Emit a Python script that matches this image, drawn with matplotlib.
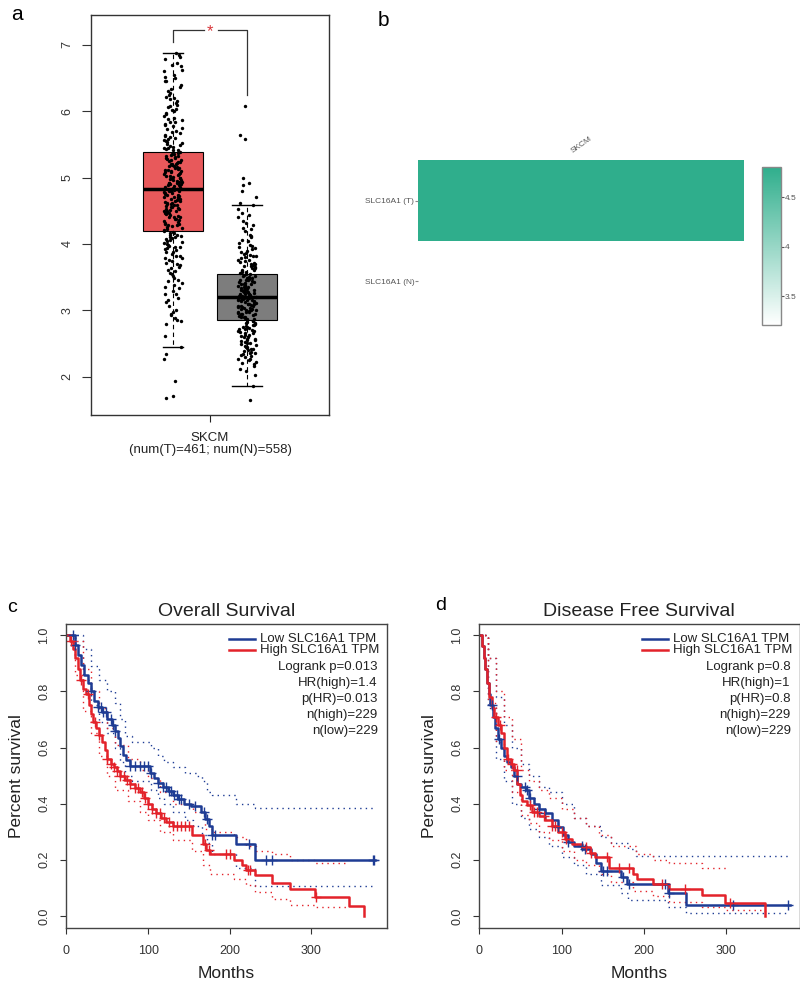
import matplotlib
matplotlib.use('Agg')
import matplotlib.pyplot as plt
import numpy as np
from matplotlib.colors import LinearSegmentedColormap

plt.rcParams['font.family'] = ['Liberation Sans', 'DejaVu Sans']

# ---- panel a: SLC16A1 expression, tumour vs normal ----
tumor_expr = [1.68, 1.71, 1.93, 2.27, 2.34, 2.45, 2.61, 2.79, 2.83, 2.88, 2.93, 2.97, 3.01, 3.06,
              3.12, 3.18, 3.24, 3.29, 3.33, 3.38, 3.41, 3.44, 3.49, 3.52, 3.56, 3.59, 3.61, 3.65,
              3.68, 3.71, 3.74, 3.76, 3.79, 3.82, 3.85, 3.87, 3.90, 3.93, 3.96, 3.99, 4.01, 4.04,
              4.06, 4.09, 4.12, 4.14, 4.17, 4.19, 4.22, 4.24, 4.27, 4.29, 4.31, 4.34, 4.36, 4.38,
              4.41, 4.43, 4.46, 4.48, 4.50, 4.52, 4.55, 4.57, 4.59, 4.61, 4.63, 4.65, 4.67, 4.70,
              4.72, 4.74, 4.76, 4.78, 4.80, 4.82, 4.84, 4.86, 4.88, 4.90, 4.92, 4.94, 4.96, 4.98,
              5.00, 5.02, 5.04, 5.06, 5.08, 5.10, 5.12, 5.14, 5.16, 5.18, 5.20, 5.22, 5.24, 5.26,
              5.28, 5.30, 5.32, 5.35, 5.37, 5.39, 5.42, 5.44, 5.47, 5.50, 5.52, 5.55, 5.58, 5.61,
              5.64, 5.67, 5.70, 5.73, 5.77, 5.80, 5.84, 5.88, 5.92, 5.96, 6.00, 6.04, 6.08, 6.13,
              6.18, 6.22, 6.28, 6.33, 6.40, 6.46, 6.51, 6.55, 6.62, 6.68, 6.72, 6.78, 6.85, 6.88,
              4.45, 4.62, 4.75, 4.83, 4.95, 5.05, 5.13, 5.25, 5.33, 4.28, 4.53, 4.68, 5.01, 5.17,
              3.95, 4.11, 5.45, 5.60, 5.83, 6.10, 4.92, 4.79, 5.27, 4.58,
              3.82, 3.88, 3.97, 4.03, 4.07, 4.13, 4.16, 4.21, 4.25, 4.30, 4.33, 4.37, 4.40, 4.42,
              4.47, 4.49, 4.51, 4.54, 4.56, 4.60, 4.64, 4.66, 4.69, 4.71, 4.73, 4.77, 4.81, 4.85,
              4.87, 4.89, 4.91, 4.93, 4.97, 4.99, 5.03, 5.07, 5.09, 5.11, 5.15, 5.19, 5.21, 5.23,
              5.29, 5.31, 5.34, 5.36, 5.41, 5.43, 5.46, 5.49, 5.53, 5.57, 5.63, 5.69, 5.75, 5.79,
              5.86, 5.90, 5.98, 6.02, 6.06, 6.15, 6.20, 6.25, 6.30, 6.36, 3.46, 3.54, 3.63, 3.70,
              3.78, 3.92, 4.00, 4.10, 4.18, 3.35, 3.25, 3.15, 2.95, 2.85, 6.50, 6.60, 6.45, 6.70,
              6.82, 5.10, 5.20, 5.00, 4.90, 4.80, 4.70, 4.60, 4.50, 4.40, 4.30]
normal_expr = [1.64, 1.86, 2.02, 2.08, 2.12, 2.16, 2.19, 2.22, 2.25, 2.27, 2.30, 2.32, 2.34, 2.37,
               2.39, 2.41, 2.43, 2.45, 2.47, 2.49, 2.51, 2.53, 2.55, 2.57, 2.59, 2.61, 2.63, 2.65,
               2.67, 2.69, 2.71, 2.73, 2.75, 2.77, 2.79, 2.81, 2.83, 2.85, 2.86, 2.88, 2.90, 2.91,
               2.93, 2.95, 2.96, 2.98, 3.00, 3.01, 3.03, 3.04, 3.06, 3.07, 3.09, 3.10, 3.12, 3.13,
               3.15, 3.16, 3.18, 3.19, 3.21, 3.22, 3.24, 3.25, 3.27, 3.28, 3.30, 3.31, 3.33, 3.35,
               3.36, 3.38, 3.40, 3.41, 3.43, 3.45, 3.47, 3.49, 3.51, 3.53, 3.55, 3.57, 3.59, 3.61,
               3.63, 3.65, 3.68, 3.70, 3.72, 3.75, 3.78, 3.80, 3.83, 3.86, 3.89, 3.92, 3.95, 3.98,
               4.02, 4.06, 4.10, 4.14, 4.19, 4.24, 4.29, 4.34, 4.40, 4.46, 4.52, 4.58, 4.62, 4.70,
               4.80, 4.88, 4.92, 5.00, 5.58, 5.64, 6.08,
               2.98, 3.05, 3.11, 3.17, 3.20, 3.23, 3.26, 3.29, 3.34, 3.39, 3.44, 3.50, 2.89, 2.94,
               3.02, 3.08, 3.14, 2.70, 2.80, 3.56, 3.62, 3.66, 2.60, 2.50, 3.74, 3.85, 2.40, 2.44,
               2.31, 2.36, 2.42, 2.46, 2.52, 2.56, 2.62, 2.66, 2.72, 2.76, 2.82, 2.84, 2.87, 2.92,
               2.97, 2.99, 3.02, 3.06, 3.09, 3.11, 3.14, 3.16, 3.19, 3.21, 3.24, 3.27, 3.30, 3.32,
               3.37, 3.42, 3.46, 3.48, 3.52, 3.58, 3.64, 3.67, 3.71, 3.76, 3.81, 3.88, 3.93, 3.97,
               4.04, 4.12, 4.22, 4.32, 4.44, 2.20, 2.26, 2.35, 2.55, 2.68, 2.74, 2.78, 3.00, 3.10,
               3.20, 3.30, 3.40, 3.60, 3.35, 3.45, 3.15, 3.05, 2.95, 2.90, 3.25, 3.54, 3.70, 3.82]
box_q1 = [4.20, 2.85]
box_med = [4.82, 3.20]
box_q3 = [5.38, 3.55]
box_lo = [2.45, 1.85]
box_hi = [6.88, 4.58]
box_colors = ['#e8595b', '#7d7d7d']

# ---- panel b: heatmap ----
heat_rows = ['SLC16A1 (T)', 'SLC16A1 (N)']
heat_cols = ['SKCM']
heat_values = [4.81, 3.21]

# ---- panel c: overall survival (month, survival) ----
os_low = [(0, 1.0), (10, 0.965), (14, 0.93), (18, 0.895), (22, 0.86), (26, 0.83), (30, 0.80),
          (34, 0.765), (38, 0.745), (44, 0.725), (50, 0.70), (56, 0.68), (60, 0.66), (63, 0.635),
          (66, 0.605), (69, 0.575), (73, 0.555), (78, 0.535), (102, 0.51), (107, 0.49),
          (112, 0.475), (118, 0.46), (124, 0.445), (130, 0.43), (137, 0.415), (144, 0.40),
          (152, 0.39), (165, 0.37), (170, 0.345), (174, 0.32), (178, 0.29), (208, 0.255),
          (231, 0.20), (378, 0.20)]
os_high = [(0, 1.0), (4, 0.98), (8, 0.95), (11, 0.92), (14, 0.88), (17, 0.84), (20, 0.81),
           (24, 0.79), (27, 0.75), (30, 0.72), (33, 0.69), (36, 0.67), (40, 0.645), (44, 0.62),
           (47, 0.59), (50, 0.56), (54, 0.54), (58, 0.53), (62, 0.515), (66, 0.50), (72, 0.485),
           (78, 0.47), (84, 0.455), (90, 0.44), (95, 0.42), (100, 0.40), (105, 0.38), (110, 0.365),
           (116, 0.35), (122, 0.335), (130, 0.32), (154, 0.29), (167, 0.255), (171, 0.235),
           (176, 0.22), (205, 0.20), (215, 0.18), (220, 0.165), (231, 0.145), (252, 0.118),
           (274, 0.095), (305, 0.068), (346, 0.035), (364, 0.0)]
os_low_up = [(0, 1.0), (10, 1.0), (20, 0.95), (30, 0.89), (40, 0.84), (50, 0.80), (60, 0.76),
             (66, 0.70), (72, 0.64), (80, 0.62), (104, 0.60), (112, 0.57), (120, 0.55),
             (130, 0.53), (145, 0.51), (160, 0.50), (166, 0.48), (172, 0.44), (178, 0.43),
             (208, 0.40), (231, 0.385), (378, 0.385)]
os_low_dn = [(0, 1.0), (10, 0.93), (20, 0.84), (30, 0.75), (40, 0.69), (50, 0.65), (60, 0.60),
             (66, 0.55), (72, 0.50), (80, 0.48), (104, 0.45), (112, 0.42), (120, 0.40),
             (130, 0.37), (145, 0.34), (155, 0.32), (166, 0.29), (172, 0.26), (178, 0.22),
             (208, 0.17), (231, 0.105), (378, 0.105)]
os_high_up = [(0, 1.0), (10, 0.98), (20, 0.88), (30, 0.80), (40, 0.74), (50, 0.67), (60, 0.61),
              (75, 0.56), (90, 0.52), (100, 0.49), (115, 0.44), (130, 0.40), (155, 0.37),
              (170, 0.31), (180, 0.30), (205, 0.28), (220, 0.25), (232, 0.23), (252, 0.22),
              (274, 0.20), (305, 0.19), (346, 0.19)]
os_high_dn = [(0, 1.0), (10, 0.86), (20, 0.73), (30, 0.65), (40, 0.57), (50, 0.50), (60, 0.45),
              (75, 0.41), (90, 0.37), (100, 0.34), (115, 0.30), (130, 0.27), (154, 0.23),
              (167, 0.18), (176, 0.15), (205, 0.13), (220, 0.11), (231, 0.085), (252, 0.06),
              (274, 0.04), (305, 0.03), (346, 0.03)]
os_low_cens = [8, 10, 30, 38, 42, 45, 48, 55, 57, 60, 78, 84, 90, 95, 100, 104, 112, 118, 122,
               125, 128, 132, 135, 138, 140, 150, 158, 168, 172, 178, 182, 224, 245, 252, 376, 377]
os_high_cens = [5, 18, 26, 35, 40, 50, 55, 58, 62, 66, 70, 74, 78, 84, 88, 92, 96, 100, 105, 110,
                115, 120, 125, 130, 135, 140, 145, 150, 170, 175, 195, 200, 222, 225, 306]
os_stats = ['Logrank p=0.013', 'HR(high)=1.4', 'p(HR)=0.013', 'n(high)=229', 'n(low)=229']

# ---- panel d: disease free survival ----
dfs_low = [(0, 1.0), (3, 0.96), (5, 0.92), (7, 0.88), (9, 0.83), (11, 0.79), (13, 0.75),
           (16, 0.71), (19, 0.67), (22, 0.63), (26, 0.60), (30, 0.57), (34, 0.55), (38, 0.53),
           (42, 0.50), (46, 0.47), (50, 0.46), (56, 0.45), (60, 0.42), (66, 0.40), (72, 0.38),
           (80, 0.365), (88, 0.34), (95, 0.315), (102, 0.29), (108, 0.265), (115, 0.25),
           (125, 0.24), (135, 0.22), (142, 0.19), (148, 0.16), (172, 0.14), (179, 0.115),
           (229, 0.08), (251, 0.04), (378, 0.04)]
dfs_high = [(0, 1.0), (3, 0.96), (5, 0.92), (7, 0.88), (9, 0.83), (12, 0.78), (15, 0.74),
            (18, 0.71), (22, 0.68), (26, 0.65), (30, 0.60), (34, 0.56), (38, 0.54), (42, 0.52),
            (46, 0.47), (49, 0.43), (52, 0.41), (58, 0.395), (64, 0.37), (72, 0.355), (80, 0.34),
            (88, 0.32), (96, 0.30), (104, 0.275), (112, 0.255), (125, 0.245), (134, 0.225),
            (140, 0.21), (157, 0.17), (186, 0.15), (191, 0.13), (211, 0.115), (230, 0.095),
            (270, 0.075), (299, 0.047), (347, 0.0)]
dfs_low_up = [(0, 1.0), (10, 0.92), (20, 0.78), (30, 0.68), (40, 0.60), (50, 0.54), (60, 0.50),
              (72, 0.46), (85, 0.44), (100, 0.40), (115, 0.35), (130, 0.32), (148, 0.28),
              (160, 0.26), (180, 0.24), (190, 0.215), (378, 0.215)]
dfs_low_dn = [(0, 1.0), (10, 0.74), (20, 0.56), (30, 0.48), (40, 0.40), (50, 0.35), (60, 0.31),
              (72, 0.28), (85, 0.25), (100, 0.21), (115, 0.18), (130, 0.15), (148, 0.11),
              (172, 0.08), (180, 0.055), (229, 0.03), (251, 0.01), (372, 0.01)]
dfs_high_up = [(0, 1.0), (10, 0.92), (20, 0.80), (30, 0.71), (40, 0.63), (50, 0.52), (60, 0.48),
               (72, 0.45), (85, 0.42), (100, 0.38), (115, 0.35), (130, 0.32), (145, 0.29),
               (160, 0.25), (190, 0.22), (211, 0.20), (230, 0.19), (270, 0.17), (300, 0.16)]
dfs_high_dn = [(0, 1.0), (10, 0.76), (20, 0.62), (30, 0.52), (40, 0.44), (50, 0.36), (60, 0.33),
               (72, 0.30), (85, 0.27), (100, 0.23), (115, 0.20), (130, 0.18), (145, 0.15),
               (160, 0.12), (186, 0.09), (211, 0.07), (230, 0.05), (270, 0.03), (300, 0.02),
               (347, 0.0)]
dfs_low_cens = [15, 24, 45, 55, 58, 62, 72, 80, 95, 108, 124, 128, 150, 155, 175, 182, 225, 230,
                308, 375]
dfs_high_cens = [20, 25, 35, 40, 45, 62, 66, 70, 78, 88, 92, 100, 105, 130, 135, 155, 170, 182,
                 222, 250, 305]
dfs_stats = ['Logrank p=0.8', 'HR(high)=1', 'p(HR)=0.8', 'n(high)=229', 'n(low)=229']

BLUE = '#1e3c94'
RED = '#e3222a'
W, H = 800, 981


def fx(px):
    return px / W


def fy(py):
    return 1 - py / H


fig = plt.figure(figsize=(8, 9.81), dpi=100)

# ================= panel a =================
ax = fig.add_axes([fx(90.7), fy(415), fx(329.3) - fx(90.7), fy(15) - fy(415)])
pos = [0.8, 1.2]
stats = []
for i in range(2):
    stats.append({'med': box_med[i], 'q1': box_q1[i], 'q3': box_q3[i],
                  'whislo': box_lo[i], 'whishi': box_hi[i], 'fliers': []})
bp = ax.bxp(stats, positions=pos, widths=0.32, patch_artist=True, showfliers=False,
            capwidths=[0.11, 0.16],
            whiskerprops=dict(color='black', lw=0.8, ls=(0, (4, 3))),
            capprops=dict(color='black', lw=1.0),
            medianprops=dict(color='black', lw=2.5),
            boxprops=dict(edgecolor='black', lw=0.8))
for patch, c in zip(bp['boxes'], box_colors):
    patch.set_facecolor(c)

# horizontal jitter of the strip points (position only)
rng = np.random.default_rng(11)
for p, vals in zip(pos, [tumor_expr, normal_expr]):
    vals = np.array(vals)
    jit = rng.uniform(-0.05, 0.05, len(vals))
    ax.scatter(p + jit, vals, s=6, color='black', zorder=3, linewidths=0)

# significance bracket
ax.plot([0.8, 0.8, 0.968], [7.05, 7.23, 7.23], color='#333333', lw=0.9)
ax.plot([1.043, 1.2, 1.2], [7.23, 7.23, 6.25], color='#333333', lw=0.9)
ax.text(1.0, 7.2, '*', color='#d8363a', fontsize=12, ha='center', va='center')

ax.set_xlim(0.355, 1.645)
ax.set_ylim(1.42, 7.45)
ax.set_yticks([2, 3, 4, 5, 6, 7])
ax.set_yticklabels(['2', '3', '4', '5', '6', '7'], rotation=90, va='center')
ax.set_xticks([1.0])
ax.set_xticklabels(['SKCM\n(num(T)=461; num(N)=558)'], linespacing=1.0)
ax.tick_params(axis='y', length=6.5, pad=6, labelsize=9, colors='#333333')
ax.tick_params(axis='x', length=5, pad=7.5, labelsize=9.5, colors='#222222')
for s in ax.spines.values():
    s.set_color('#333333')
    s.set_linewidth(1.0)

# ================= panel b =================
axh = fig.add_axes([fx(418.3), fy(322), fx(744) - fx(418.3), fy(160) - fy(322)])
cmap = LinearSegmentedColormap.from_list('teal', ['#ffffff', '#2fae8c'])
im = axh.imshow(np.array(heat_values).reshape(2, 1), aspect='auto', cmap=cmap,
                vmin=3.21, vmax=4.81, interpolation='nearest')
axh.set_yticks([0, 1])
axh.set_yticklabels(heat_rows, fontsize=6, color='#555555')
axh.set_xticks([0])
axh.set_xticklabels(heat_cols, fontsize=6, color='#555555', rotation=35)
axh.xaxis.tick_top()
axh.tick_params(axis='y', length=2, pad=1, color='#888888')
axh.tick_params(axis='x', length=0, pad=4)
for s in axh.spines.values():
    s.set_visible(False)

cax = fig.add_axes([fx(761.7), fy(325), fx(780.7) - fx(761.7), fy(166.7) - fy(325)])
cb = fig.colorbar(im, cax=cax, ticks=[3.5, 4, 4.5])
cb.ax.set_yticklabels(['3.5', '4', '4.5'])
cb.ax.tick_params(labelsize=6, length=2, pad=1, colors='#555555')
cb.outline.set_edgecolor('#888888')
cb.outline.set_linewidth(1.0)


# ================= panels c, d =================
def step_curve(ax, pts, color, lw, ls):
    t, s = zip(*pts)
    ax.step(t, s, where='post', color=color, lw=lw, ls=ls)


def censor(ax, pts, times, color):
    t, s = map(np.array, zip(*pts))
    idx = np.searchsorted(t, times, side='right') - 1
    ax.plot(times, s[idx], ls='none', marker='+', ms=7, mew=1.0, color=color)


def km_panel(left, title, low, high, bands_low, bands_high, cens_low, cens_high,
             stat_lines, xmax, label, label_xy):
    axk = fig.add_axes([fx(left), fy(927.7), 320.5 / W, (927.7 - 624) / H])
    for b in bands_low:
        step_curve(axk, b, BLUE, 1.0, (0, (1, 3)))
    for b in bands_high:
        step_curve(axk, b, RED, 1.0, (0, (1, 3)))
    step_curve(axk, low, BLUE, 1.8, '-')
    step_curve(axk, high, RED, 1.8, '-')
    censor(axk, low, cens_low, BLUE)
    censor(axk, high, cens_high, RED)

    axk.set_xlim(-0.6, xmax)
    axk.set_ylim(-0.042, 1.04)
    axk.set_xticks([0, 100, 200, 300])
    axk.set_yticks([0, 0.2, 0.4, 0.6, 0.8, 1.0])
    axk.set_yticklabels(['0.0', '0.2', '0.4', '0.6', '0.8', '1.0'], rotation=90, va='center')
    axk.tick_params(axis='both', length=4.5, labelsize=9, colors='#333333')
    axk.tick_params(axis='x', pad=8)
    axk.tick_params(axis='y', pad=7)
    for s in axk.spines.values():
        s.set_color('#444444')
        s.set_linewidth(1.0)

    # legend, R style
    axk.plot([0.508, 0.59], [0.9506, 0.9506], color=BLUE, lw=1.8, transform=axk.transAxes)
    axk.plot([0.508, 0.59], [0.913, 0.913], color=RED, lw=1.8, transform=axk.transAxes)
    axk.text(0.605, 0.9506, 'Low SLC16A1 TPM', transform=axk.transAxes, fontsize=9.5,
             va='center', color='#222222')
    axk.text(0.605, 0.913, 'High SLC16A1 TPM', transform=axk.transAxes, fontsize=9.5,
             va='center', color='#222222')
    ys = [0.858, 0.806, 0.753, 0.70, 0.648]
    for txt, yy in zip(stat_lines, ys):
        axk.text(0.973, yy, txt, transform=axk.transAxes, fontsize=9.5, ha='right',
                 va='center', color='#222222')

    cx = left + 160.3
    fig.text(fx(cx), fy(611.5), title, fontsize=14, ha='center', va='center', color='#222222')
    fig.text(fx(cx), fy(973), 'Months', fontsize=12.5, ha='center', va='center', color='#222222')
    fig.text(fx(left - 49.3), fy(776), 'Percent survival', fontsize=12.5, rotation=90,
             ha='center', va='center', color='#222222')
    fig.text(fx(label_xy[0]), fy(label_xy[1]), label, fontsize=14, ha='center', va='center')


km_panel(66, 'Overall Survival', os_low, os_high, [os_low_up, os_low_dn],
         [os_high_up, os_high_dn], os_low_cens, os_high_cens, os_stats, 392, 'c', (11.7, 608))
km_panel(479, 'Disease Free Survival', dfs_low, dfs_high, [dfs_low_up, dfs_low_dn],
         [dfs_high_up, dfs_high_dn], dfs_low_cens, dfs_high_cens, dfs_stats, 389, 'd',
         (440.7, 606))

fig.text(fx(16.7), fy(15), 'a', fontsize=15, ha='center', va='center')
fig.text(fx(383), fy(21), 'b', fontsize=15, ha='center', va='center')

fig.savefig('out.png', dpi=100)
